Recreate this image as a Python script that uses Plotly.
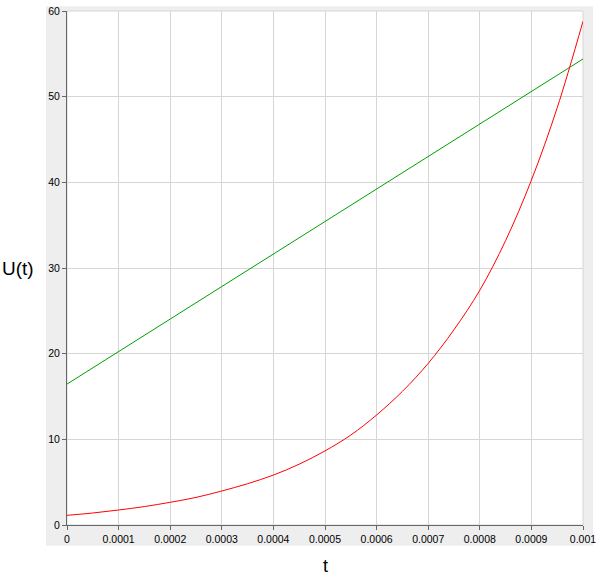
import plotly.graph_objects as go

# Data
t_red = [0, 0.00005, 0.0001, 0.00015, 0.0002, 0.00025, 0.0003, 0.00035, 0.0004, 0.00045,
         0.0005, 0.00055, 0.0006, 0.00065, 0.0007, 0.00075, 0.0008, 0.00085, 0.0009, 0.00095, 0.001]
u_red = [1.13, 1.40, 1.75, 2.15, 2.65, 3.22, 3.97, 4.82, 5.83, 7.10,
         8.65, 10.5, 12.84, 15.6, 18.87, 22.8, 27.4, 33.2, 40.25, 48.7, 58.8]

t_green = [0, 0.001]
u_green = [16.45, 54.4]

x_ticks = [0, 0.0001, 0.0002, 0.0003, 0.0004, 0.0005, 0.0006, 0.0007, 0.0008, 0.0009, 0.001]
x_tick_text = ["0", "0.0001", "0.0002", "0.0003", "0.0004", "0.0005", "0.0006", "0.0007", "0.0008", "0.0009", "0.001"]
y_ticks = [0, 10, 20, 30, 40, 50, 60]

fig = go.Figure()
fig.add_trace(go.Scatter(x=t_green, y=u_green, mode="lines",
                         line=dict(color="#00a000", width=1), showlegend=False))
fig.add_trace(go.Scatter(x=t_red, y=u_red, mode="lines", line_shape="spline",
                         line=dict(color="#ff0000", width=1), showlegend=False))

font_family = "Liberation Sans, Arial, sans-serif"

fig.update_layout(
    width=600, height=583,
    margin=dict(l=67, r=17, t=11, b=58, autoexpand=False),
    paper_bgcolor="white",
    plot_bgcolor="rgba(0,0,0,0)",
    font=dict(family=font_family, size=10.5, color="black"),
    xaxis=dict(range=[0, 0.001], tickvals=x_ticks, ticktext=x_tick_text,
               showgrid=True, gridcolor="#d6d6d6", gridwidth=1,
               showline=True, linecolor="#666666", linewidth=1,
               ticks="outside", ticklen=4, tickcolor="#666666",
               zeroline=False, fixedrange=True, automargin=False),
    yaxis=dict(range=[0, 60], tickvals=y_ticks,
               showgrid=True, gridcolor="#d6d6d6", gridwidth=1,
               showline=True, linecolor="#666666", linewidth=1,
               ticks="outside", ticklen=4, tickcolor="#666666",
               zeroline=False, fixedrange=True, automargin=False),
    shapes=[
        dict(type="rect", xref="paper", yref="paper", x0=-0.0407, x1=1.0194, y0=-0.0405, y1=1.0091,
             fillcolor="#eeeeee", line=dict(width=0), layer="below"),
        dict(type="rect", xref="paper", yref="paper", x0=0, x1=1, y0=0, y1=1,
             fillcolor="white", line=dict(color="#d6d6d6", width=1), layer="below"),
    ],
    annotations=[
        dict(text="U(t)", xref="paper", yref="paper", x=-0.095, y=0.5,
             showarrow=False, font=dict(size=19, family=font_family, color="black"),
             xanchor="center", yanchor="middle"),
        dict(text="t", xref="paper", yref="paper", x=0.5, y=(525 - 566) / 514.3,
             showarrow=False, font=dict(size=18, family=font_family, color="black"),
             xanchor="center", yanchor="middle"),
    ],
)

fig.write_html("out.html", config={"displayModeBar": False},
               post_script="document.body.style.margin='0px';document.body.style.padding='0px';")
